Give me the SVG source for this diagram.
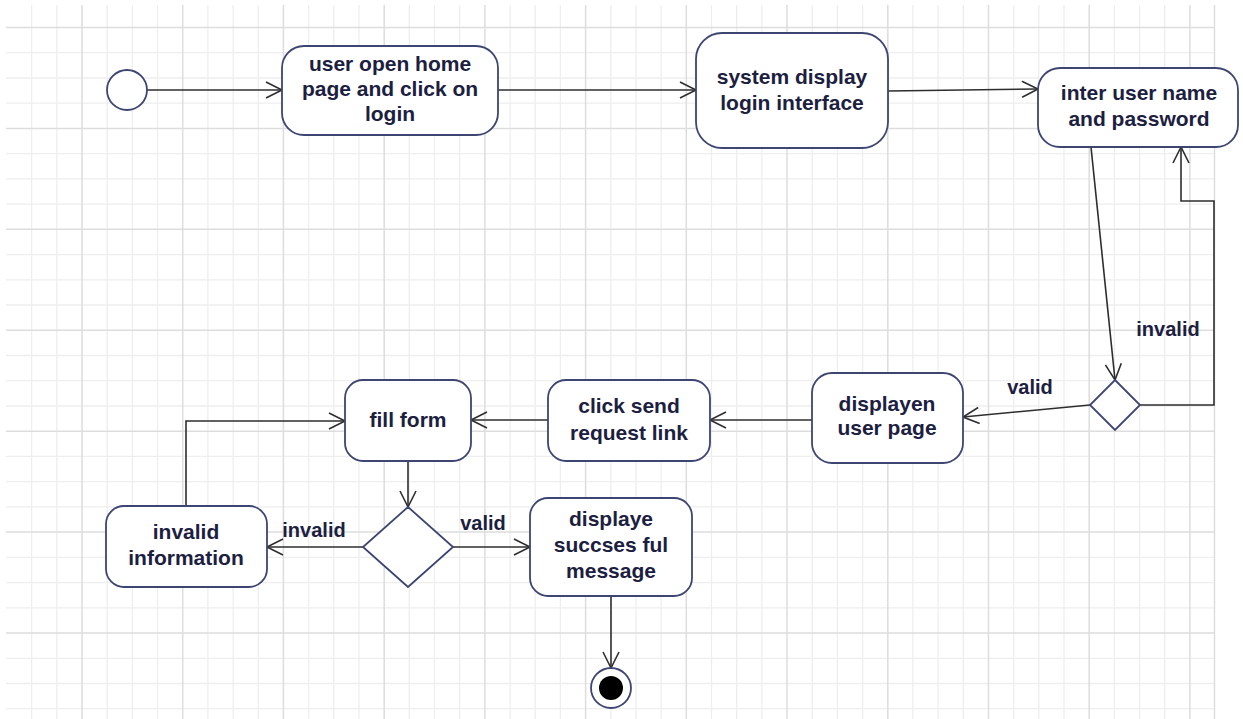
<svg xmlns="http://www.w3.org/2000/svg" width="1243" height="719" viewBox="0 0 1243 719">
  <style>
    .minor { stroke: #eeeeee; stroke-width: 1.3; fill: none; }
    .major { stroke: #dddddd; stroke-width: 1.5; fill: none; }
    .node { fill: #ffffff; stroke: #3d4572; stroke-width: 1.8; }
    .txt { font-family: "Liberation Sans", Arial, sans-serif; font-weight: bold; font-size: 21px; fill: #1c2040; text-anchor: middle; }
    .lbl { font-family: "Liberation Sans", Arial, sans-serif; font-weight: bold; font-size: 20px; fill: #1c2040; text-anchor: middle; }
    .edge { fill: none; stroke: #2e2e2e; stroke-width: 1.6; marker-end: url(#open); }
  </style>
  <defs>
    <marker id="open" markerUnits="userSpaceOnUse" markerWidth="20" markerHeight="20" refX="17" refY="9" orient="auto">
      <path d="M1,1 L17,9 L1,17" fill="none" stroke="#2e2e2e" stroke-width="1.6"/>
    </marker>
  </defs>

  <rect width="1243" height="719" fill="#ffffff"/>

  <!-- background grid -->
  <g id="grid">
    <path class="minor" d="M31.6,5V719 M56.8,5V719 M107.2,5V719 M132.4,5V719 M157.5,5V719 M207.9,5V719 M233.1,5V719 M258.3,5V719 M308.6,5V719 M333.8,5V719 M359,5V719 M409.3,5V719 M434.5,5V719 M459.7,5V719 M510.1,5V719 M535.2,5V719 M560.4,5V719 M610.8,5V719 M636,5V719 M661.1,5V719 M711.5,5V719 M736.7,5V719 M761.9,5V719 M812.2,5V719 M837.4,5V719 M862.6,5V719 M912.9,5V719 M938.1,5V719 M963.3,5V719 M1013.7,5V719 M1038.8,5V719 M1064,5V719 M1114.4,5V719 M1139.6,5V719 M1164.7,5V719"/>
    <path class="minor" d="M6,52.7H1215 M6,78H1215 M6,103.2H1215 M6,153.7H1215 M6,178.9H1215 M6,204.1H1215 M6,254.6H1215 M6,279.8H1215 M6,305H1215 M6,355.5H1215 M6,380.7H1215 M6,406H1215 M6,456.4H1215 M6,481.6H1215 M6,506.9H1215 M6,557.3H1215 M6,582.6H1215 M6,607.8H1215 M6,658.3H1215 M6,683.5H1215 M6,708.7H1215"/>
    <path class="major" d="M82,5V719 M182.7,5V719 M283.4,5V719 M384.2,5V719 M484.9,5V719 M585.6,5V719 M686.3,5V719 M787,5V719 M887.8,5V719 M988.5,5V719 M1089.2,5V719 M1189.9,5V719 M1214.5,5V719"/>
    <path class="major" d="M6,27.5H1215 M6,128.4H1215 M6,229.3H1215 M6,330.3H1215 M6,431.2H1215 M6,532.1H1215 M6,633H1215"/>
  </g>

  <!-- connectors -->
  <g id="connectors">
    <path class="edge" d="M147,90 H282"/>
    <path class="edge" d="M498,90 H696"/>
    <path class="edge" d="M888,91 L1038,89"/>
    <path class="edge" d="M1091,147 L1115,380"/>
    <path class="edge" d="M1140,405 H1214 V201 H1181 V147"/>
    <path class="edge" d="M1090,405 L963,417"/>
    <path class="edge" d="M812,420 H710"/>
    <path class="edge" d="M548,420 H471"/>
    <path class="edge" d="M408,461 V507"/>
    <path class="edge" d="M363,547 H267"/>
    <path class="edge" d="M186,506 V421 H345"/>
    <path class="edge" d="M453,547 H530"/>
    <path class="edge" d="M611,597 V668"/>
    <text class="lbl" x="1168" y="336">invalid</text>
    <text class="lbl" x="1030" y="394">valid</text>
    <text class="lbl" x="314" y="537">invalid</text>
    <text class="lbl" x="483" y="530">valid</text>
  </g>

  <!-- nodes -->
  <g id="start">
    <circle class="node" cx="127" cy="90" r="20"/>
  </g>
  <g id="open-home">
    <rect class="node" x="282" y="46" width="216" height="89" rx="22"/>
    <text class="txt" x="390" y="71">user open home</text>
    <text class="txt" x="390" y="96">page and click on</text>
    <text class="txt" x="390" y="121">login</text>
  </g>
  <g id="login-interface">
    <rect class="node" x="696" y="33" width="192" height="115" rx="26"/>
    <text class="txt" x="792" y="84">system display</text>
    <text class="txt" x="792" y="110">login interface</text>
  </g>
  <g id="enter-credentials">
    <rect class="node" x="1038" y="68" width="200" height="79" rx="22"/>
    <text class="txt" x="1139" y="100">inter user name</text>
    <text class="txt" x="1139" y="126">and password</text>
  </g>
  <g id="check-login">
    <path class="node" d="M1115,380 L1140,405 L1115,430 L1090,405 Z"/>
  </g>
  <g id="user-page">
    <rect class="node" x="812" y="373" width="151" height="90" rx="20"/>
    <text class="txt" x="887" y="411">displayen</text>
    <text class="txt" x="887" y="435">user page</text>
  </g>
  <g id="request-link">
    <rect class="node" x="548" y="380" width="162" height="81" rx="18"/>
    <text class="txt" x="629" y="413">click send</text>
    <text class="txt" x="629" y="440">request link</text>
  </g>
  <g id="fill-form">
    <rect class="node" x="345" y="380" width="126" height="81" rx="18"/>
    <text class="txt" x="408" y="427">fill form</text>
  </g>
  <g id="check-form">
    <path class="node" d="M408,507 L453,547 L408,587 L363,547 Z"/>
  </g>
  <g id="invalid-info">
    <rect class="node" x="106" y="506" width="161" height="81" rx="18"/>
    <text class="txt" x="186" y="539">invalid</text>
    <text class="txt" x="186" y="565">information</text>
  </g>
  <g id="success-message">
    <rect class="node" x="530" y="498" width="162" height="98" rx="18"/>
    <text class="txt" x="611" y="526">displaye</text>
    <text class="txt" x="611" y="552">succses ful</text>
    <text class="txt" x="611" y="578">message</text>
  </g>
  <g id="end">
    <circle class="node" cx="611" cy="688" r="20"/>
    <circle cx="611" cy="688" r="12" fill="#000000"/>
  </g>
</svg>
